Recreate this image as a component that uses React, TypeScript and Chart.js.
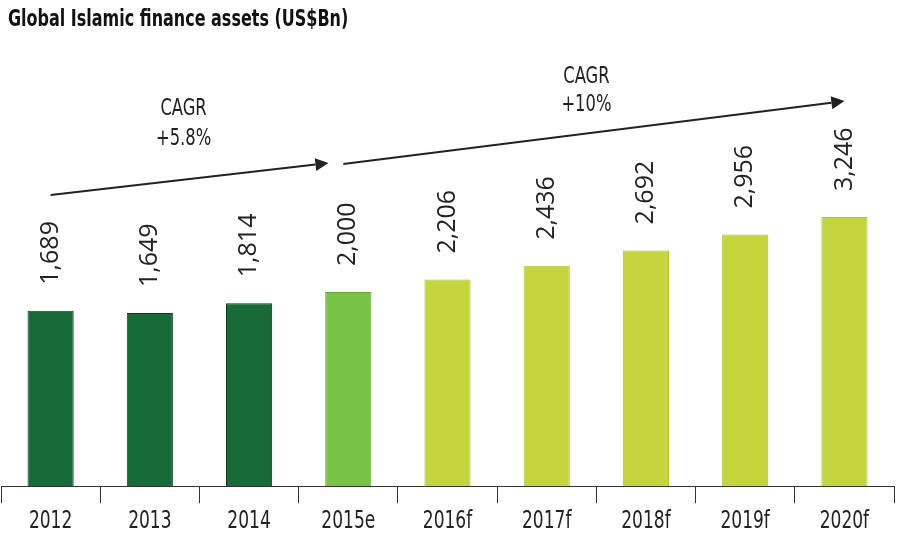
import React, { useEffect, useRef } from "react";
import { Chart, registerables } from "chart.js";

Chart.register(...registerables);

const TITLE = "Global Islamic finance assets (US$Bn)";
const categories = ["2012", "2013", "2014", "2015e", "2016f", "2017f", "2018f", "2019f", "2020f"];
const assets = [1689, 1649, 1814, 2000, 2206, 2436, 2692, 2956, 3246];
const valueLabels = ["1,689", "1,649", "1,814", "2,000", "2,206", "2,436", "2,692", "2,956", "3,246"];
const barColors = ["#166b37", "#166b37", "#166b37", "#78c244", "#c4d53e", "#c4d53e", "#c4d53e", "#c4d53e", "#c4d53e"];
const barBorders = ["#0c3e1e", "#0c3e1e", "#0c3e1e", "#5ea832", "#b2c534", "#b2c534", "#b2c534", "#b2c534", "#b2c534"];

// CAGR arrows in data units: [x index start, y value start, x index end, y value end]
const arrows = [
  [0.0, 3612, 2.8, 4144],
  [2.95, 4128, 8.0, 5176],
];
// CAGR notes
const cagrX = [1.34, 5.4];
const cagrLine1Y = [5043, 5575];
const cagrLine2Y = [4544, 5109];
const cagrLine1 = ["CAGR", "CAGR"];
const cagrLine2 = ["+5.8%", "+10%"];

const Y_MIN = -1230;
const Y_MAX = 6857;

const COND = "'DejaVu Sans Condensed', 'DejaVu Sans', sans-serif";
const SQUEEZE = 0.79;

function drawText(ctx: any, text: string, x: number, y: number, font: string, sx: number, align: string) {
  ctx.save();
  ctx.translate(x, y);
  ctx.scale(sx, 1);
  ctx.font = font;
  ctx.textAlign = align;
  ctx.textBaseline = "middle";
  ctx.fillText(text, 0, 0);
  ctx.restore();
}

const annotPlugin = {
  id: "annot",
  afterDraw(chart: any) {
    const ctx = chart.ctx;
    const xs = chart.scales.x;
    const ys = chart.scales.y;
    ctx.save();
    // title
    ctx.fillStyle = "#111";
    drawText(ctx, TITLE, 8, 20, `bold 22.5px ${COND}`, SQUEEZE, "left");

    // category labels
    ctx.fillStyle = "#222";
    categories.forEach((c, i) => {
      drawText(ctx, c, xs.getPixelForTick(i), xs.top + 36, `24px ${COND}`, SQUEEZE, "center");
    });

    // value labels rotated
    const meta = chart.getDatasetMeta(0);
    meta.data.forEach((bar: any, i: number) => {
      ctx.save();
      ctx.translate(bar.x, bar.y - 26);
      ctx.rotate(-Math.PI / 2);
      ctx.font = "25px 'Open Sans', sans-serif";
      ctx.fillStyle = "#222";
      ctx.textAlign = "left";
      ctx.textBaseline = "middle";
      ctx.fillText(valueLabels[i], 0, 0);
      ctx.restore();
    });

    // arrows
    ctx.strokeStyle = "#222";
    ctx.fillStyle = "#222";
    ctx.lineWidth = 2;
    arrows.forEach((a) => {
      const x1 = xs.getPixelForValue(a[0]);
      const y1 = ys.getPixelForValue(a[1]);
      const x2 = xs.getPixelForValue(a[2]);
      const y2 = ys.getPixelForValue(a[3]);
      const ang = Math.atan2(y2 - y1, x2 - x1);
      const hl = 13;
      const hw = 6.5;
      const bx = x2 - hl * Math.cos(ang);
      const by = y2 - hl * Math.sin(ang);
      ctx.beginPath();
      ctx.moveTo(x1, y1);
      ctx.lineTo(bx, by);
      ctx.stroke();
      ctx.beginPath();
      ctx.moveTo(x2, y2);
      ctx.lineTo(bx + hw * Math.sin(ang), by - hw * Math.cos(ang));
      ctx.lineTo(bx - hw * Math.sin(ang), by + hw * Math.cos(ang));
      ctx.closePath();
      ctx.fill();
    });

    // CAGR text
    ctx.fillStyle = "#222";
    cagrX.forEach((cx, i) => {
      const px = xs.getPixelForValue(cx);
      drawText(ctx, cagrLine1[i], px, ys.getPixelForValue(cagrLine1Y[i]), `23px ${COND}`, SQUEEZE, "center");
      drawText(ctx, cagrLine2[i], px, ys.getPixelForValue(cagrLine2Y[i]), `23px ${COND}`, SQUEEZE, "center");
    });
    ctx.restore();
  },
};

export default function App() {
  const ref = useRef<HTMLCanvasElement | null>(null);
  useEffect(() => {
    document.body.style.margin = "0";
    const chart = new Chart(ref.current as HTMLCanvasElement, {
      type: "bar",
      data: {
        labels: categories,
        datasets: [
          {
            data: assets,
            base: Y_MIN,
            backgroundColor: barColors,
            borderColor: barBorders,
            borderWidth: 1,
            categoryPercentage: 1,
            barPercentage: 0.465,
          } as any,
        ],
      },
      options: {
        animation: false,
        responsive: false,
        maintainAspectRatio: false,
        layout: { padding: { left: 1, right: 3, top: 0, bottom: 0 } },
        plugins: { legend: { display: false }, tooltip: { enabled: false }, title: { display: false } },
        scales: {
          x: {
            grid: {
              display: true,
              drawOnChartArea: false,
              drawTicks: true,
              tickLength: 17,
              color: "#333",
              lineWidth: 1,
              offset: true,
            },
            border: { display: true, color: "#333", width: 1 },
            ticks: {
              color: "rgba(0,0,0,0)",
              font: { family: COND, size: 24 },
              padding: 4,
              maxRotation: 0,
            },
          },
          y: {
            display: false,
            min: Y_MIN,
            max: Y_MAX,
          },
        },
      },
      plugins: [annotPlugin],
    });
    return () => chart.destroy();
  }, []);
  return (
    <div style={{ position: "absolute", left: 0, top: 0, width: 897, height: 540 }}>
      <canvas ref={ref} width={897} height={540} style={{ width: 897, height: 540 }} />
    </div>
  );
}
